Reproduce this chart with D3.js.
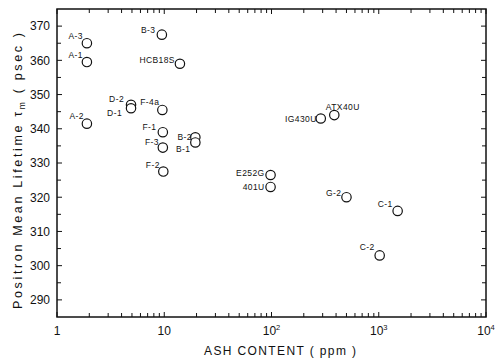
<!DOCTYPE html>
<html><head><meta charset="utf-8">
<script src="https://cdn.jsdelivr.net/npm/d3@7"></script>
<style>
html,body{margin:0;padding:0;background:#fff;}
svg{display:block;}
text{font-family:"Liberation Sans",Arial,sans-serif;fill:#111;}
</style></head>
<body>
<svg id="chart" width="500" height="358"></svg>
<script>
// ---- data ----
const samples = ["A-3","A-1","A-2","B-3","HCB18S","D-2","D-1","F-4a","F-1","F-3","F-2","B-2","B-1","E252G","401U","IG430U","ATX40U","G-2","C-1","C-2"];
const ashPpm = [1.9,1.9,1.9,9.5,14,4.9,4.9,9.6,9.7,9.7,9.8,19.5,19.5,98,98,288,385,500,1500,1020];
const lifetimePs = [365,359.5,341.5,367.5,359,347,346,345.5,339,334.5,327.5,337.5,336,326.5,323,343,344,320,316,303];
const yTickLabels = [290,300,310,320,330,340,350,360,370];
const xTickLabels = [1,10,100,1000,10000];

// ---- layout ----
const L = 57, R = 486, T = 9, B = 317;
const svg = d3.select("#chart");
const x = d3.scaleLog().domain([1,10000]).range([L,R]);
const y = d3.scaleLinear().domain([285,375]).range([B,T]);
const ink = "#111";

// frame
svg.append("rect").attr("x",L).attr("y",T).attr("width",R-L).attr("height",B-T)
  .attr("fill","none").attr("stroke",ink).attr("stroke-width",1.5);

// x ticks (log minor) bottom & top
const xt = [];
for (let d=1; d<10000; d*=10) for (let m=1;m<10;m++) xt.push(d*m);
xt.push(10000);
const xg = svg.append("g").attr("stroke",ink).attr("stroke-width",1);
xt.forEach(v=>{
  const major = Math.abs(Math.log10(v)-Math.round(Math.log10(v)))<1e-9;
  const len = major?5:4;
  xg.append("line").attr("x1",x(v)).attr("x2",x(v)).attr("y1",B).attr("y2",B-len);
  xg.append("line").attr("x1",x(v)).attr("x2",x(v)).attr("y1",T).attr("y2",T+len);
});
// y ticks every 5
const yg = svg.append("g").attr("stroke",ink).attr("stroke-width",1);
d3.range(290,375,5).forEach(v=>{
  const len = v%10===0?5:4;
  yg.append("line").attr("x1",L).attr("x2",L+len).attr("y1",y(v)).attr("y2",y(v));
  yg.append("line").attr("x1",R).attr("x2",R-len).attr("y1",y(v)).attr("y2",y(v));
});

// y tick labels
svg.append("g").selectAll("text").data(yTickLabels).join("text")
  .attr("x",L-7).attr("y",d=>y(d)+4.3).attr("text-anchor","end")
  .attr("font-size",12).text(d=>d);

// x tick labels
xTickLabels.forEach(v=>{
  const t = svg.append("text").attr("x",x(v)).attr("y",335).attr("text-anchor","middle").attr("font-size",12);
  const p = Math.round(Math.log10(v));
  if (p<=1) t.text(String(v));
  else { t.append("tspan").text("10"); t.append("tspan").attr("dy",-5).attr("font-size",7.5).text(p); }
});

// axis titles
svg.append("text").attr("x",280).attr("y",355).attr("text-anchor","middle")
  .attr("font-size",12).attr("textLength",152).attr("lengthAdjust","spacing")
  .text("ASH CONTENT  ( ppm )");
const yt = svg.append("text").attr("transform","translate(22,171) rotate(-90)")
  .attr("text-anchor","middle").attr("font-size",12.5)
  .attr("textLength",276).attr("lengthAdjust","spacing");
yt.append("tspan").text("Positron  Mean  Lifetime  τ");
yt.append("tspan").attr("dy",3).attr("font-size",8.5).text("m");
yt.append("tspan").attr("dy",-3).text("  ( psec )");

// points
const pts = samples.map((s,i)=>({name:s, ash:ashPpm[i], tau:lifetimePs[i]}));
svg.append("g").selectAll("circle").data(pts).join("circle")
  .attr("cx",d=>x(d.ash)).attr("cy",d=>y(d.tau)).attr("r",4.7)
  .attr("fill","#fff").attr("stroke",ink).attr("stroke-width",1.2);

// point labels (placement offsets)
const lab = {
  "A-3":["end",-4,-4.5],"A-1":["end",-4,-4],"A-2":["end",-3,-4.5],"B-3":["end",-6.5,-1.5],
  "HCB18S":["end",-5,-0.5],"D-2":["end",-7,-2.5],"D-1":["end",-9,7.5],"F-4a":["end",-3,-5],
  "F-1":["end",-6.5,-2.5],"F-3":["end",-4,-2.5],"F-2":["end",-3.5,-3.5],"B-2":["end",-3.5,2.5],
  "B-1":["end",-5,9.5],"E252G":["end",-6,1],"401U":["end",-6,3.3],"IG430U":["end",-4,3],
  "ATX40U":["start",-8.5,-5.5],"G-2":["end",-5,-1],"C-1":["end",-5,-3.5],"C-2":["end",-5,-5.5]
};
svg.append("g").selectAll("text").data(pts).join("text")
  .attr("x",d=>x(d.ash)+lab[d.name][1]).attr("y",d=>y(d.tau)+lab[d.name][2])
  .attr("text-anchor",d=>lab[d.name][0]).attr("font-size",8.5).attr("letter-spacing",0.4)
  .text(d=>d.name);
</script>
</body></html>
